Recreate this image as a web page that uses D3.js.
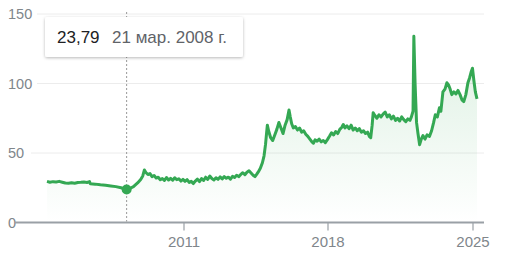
<!DOCTYPE html>
<html>
<head>
<meta charset="utf-8">
<script src="https://cdn.jsdelivr.net/npm/d3@7"></script>
<style>
  body { margin: 0; background: #fff; }
  svg { display: block; font-family: Arial, "Liberation Sans", sans-serif; }
</style>
</head>
<body>
<svg id="chart" width="506" height="265"></svg>
<script>
// decimal years and closing prices
var years = [
  2004.36, 2004.5, 2004.65, 2004.8, 2004.95, 2005.1, 2005.25, 2005.4, 2005.55, 2005.7,
  2005.85, 2006.0, 2006.15, 2006.3, 2006.42, 2006.46, 2006.7, 2006.95, 2007.2, 2007.45,
  2007.7, 2007.95, 2008.1, 2008.22, 2008.35, 2008.55, 2008.75, 2008.9, 2009.0, 2009.08,
  2009.15, 2009.25, 2009.35, 2009.45, 2009.55, 2009.65, 2009.75, 2009.85, 2009.95, 2010.05,
  2010.15, 2010.25, 2010.35, 2010.45, 2010.55, 2010.65, 2010.75, 2010.85, 2010.95, 2011.05,
  2011.15, 2011.25, 2011.35, 2011.45, 2011.55, 2011.65, 2011.75, 2011.85, 2011.95, 2012.05,
  2012.15, 2012.25, 2012.35, 2012.45, 2012.55, 2012.65, 2012.75, 2012.85, 2012.95, 2013.05,
  2013.15, 2013.25, 2013.35, 2013.45, 2013.55, 2013.65, 2013.75, 2013.85, 2013.95, 2014.05,
  2014.15, 2014.25, 2014.35, 2014.44, 2014.52, 2014.6, 2014.7, 2014.8, 2014.88, 2014.95,
  2015.0, 2015.04, 2015.1, 2015.2, 2015.3, 2015.4, 2015.5, 2015.6, 2015.7, 2015.8,
  2015.9, 2016.0, 2016.09, 2016.15, 2016.22, 2016.3, 2016.4, 2016.5, 2016.6, 2016.7,
  2016.8, 2016.9, 2017.0, 2017.1, 2017.2, 2017.27, 2017.35, 2017.45, 2017.55, 2017.65,
  2017.75, 2017.85, 2017.95, 2018.05, 2018.15, 2018.25, 2018.35, 2018.45, 2018.55, 2018.65,
  2018.72, 2018.8, 2018.9, 2019.0, 2019.1, 2019.2, 2019.3, 2019.4, 2019.5, 2019.6,
  2019.7, 2019.8, 2019.9, 2019.98, 2020.05, 2020.12, 2020.17, 2020.25, 2020.35, 2020.45,
  2020.55, 2020.65, 2020.75, 2020.85, 2020.95, 2021.05, 2021.15, 2021.25, 2021.35, 2021.45,
  2021.55, 2021.65, 2021.75, 2021.85, 2021.95, 2022.02, 2022.1, 2022.14, 2022.2, 2022.27,
  2022.34, 2022.42, 2022.5, 2022.58, 2022.68, 2022.78, 2022.9, 2023.0, 2023.1, 2023.18,
  2023.28, 2023.38, 2023.45, 2023.55, 2023.65, 2023.74, 2023.82, 2023.9, 2023.98, 2024.08,
  2024.18, 2024.28, 2024.38, 2024.48, 2024.56, 2024.66, 2024.76, 2024.84, 2024.92, 2024.98,
  2025.05, 2025.12, 2025.2
];
var prices = [
  29.6, 29.0, 29.4, 29.2, 29.6, 29.0, 28.4, 28.2, 28.6, 28.3,
  28.8, 28.9, 29.1, 28.8, 29.4, 27.9, 27.6, 27.1, 26.8, 26.3,
  25.8, 25.0, 24.4, 23.79, 24.3, 25.8, 28.5, 31.0, 33.5, 37.8,
  36.0, 34.5, 35.2, 33.0, 33.8, 32.0, 32.6, 30.8, 31.6, 30.2,
  32.4, 30.6, 31.8, 30.4, 32.2, 30.8, 31.4, 29.8, 31.0, 29.6,
  30.8, 28.8, 29.6, 28.0, 29.8, 31.2, 29.4, 31.6, 30.2, 32.6,
  31.0, 33.4, 31.6, 30.6, 32.2, 31.0, 32.8, 31.4, 33.0, 31.8,
  32.6, 31.2, 33.2, 32.4, 34.0, 33.0, 34.6, 35.8, 34.4, 36.2,
  37.2, 35.6, 34.0, 33.0, 34.6, 36.4, 39.0, 43.0, 48.0, 56.0,
  64.0, 70.0, 66.0, 61.0, 59.0, 63.0, 67.0, 72.0, 68.0, 64.0,
  70.0, 74.0, 81.0, 76.0, 71.0, 68.0, 69.0, 66.5, 68.0, 65.0,
  66.0, 63.5, 62.0, 60.0, 58.0, 57.0, 59.5, 58.5, 60.0, 58.0,
  59.0, 57.5, 59.6, 62.0, 64.6, 63.0, 65.5, 64.0, 67.0, 68.5,
  70.5, 68.0, 69.6, 67.5, 70.0, 66.5, 68.0, 66.0, 67.5, 65.0,
  66.0, 64.0, 65.0, 62.0, 61.0, 70.0, 79.0, 77.0, 75.0, 77.5,
  76.0, 78.0, 79.5, 76.0, 77.5, 74.5, 76.5, 73.5, 75.0, 73.0,
  76.0, 74.0, 72.5, 74.5, 73.5, 76.0, 80.0, 134.0, 100.0, 72.0,
  64.0, 56.0, 60.0, 62.5, 60.0, 63.0, 62.0, 66.0, 72.0, 77.5,
  76.0, 82.5, 80.0, 94.0, 96.0, 100.5, 99.0, 96.0, 92.0, 94.0,
  92.5, 95.0, 92.0, 88.0, 87.0, 92.0, 100.5, 104.0, 108.5, 111.0,
  102.0, 94.0, 89.0
];
var yTicks = [0, 50, 100, 150];
var xTickYears = [2011, 2018, 2025];
var hoverIndex = 23;
var hoverValue = "23,79";
var hoverDate = "21 мар. 2008 г.";

function toDate(y) {
  var yr = Math.floor(y);
  var start = Date.UTC(yr, 0, 1), end = Date.UTC(yr + 1, 0, 1);
  return new Date(start + (y - yr) * (end - start));
}

var data = years.map(function(y, i) { return { date: toDate(y), value: prices[i] }; });

var svg = d3.select('#chart');
var green = '#34a853';

var x = d3.scaleTime().domain(d3.extent(data, function(d) { return d.date; })).range([47, 477]);
var y = d3.scaleLinear().domain([0, 150]).range([222.5, 14]);

var defs = svg.append('defs');
var grad = defs.append('linearGradient').attr('id', 'fillGrad')
  .attr('gradientUnits', 'userSpaceOnUse')
  .attr('x1', 0).attr('x2', 0).attr('y1', y(111)).attr('y2', y(0));
grad.append('stop').attr('offset', 0).attr('stop-color', green).attr('stop-opacity', 0.14);
grad.append('stop').attr('offset', 1).attr('stop-color', green).attr('stop-opacity', 0);

var shadow = defs.append('filter').attr('id', 'shadow')
  .attr('x', '-10%').attr('y', '-30%').attr('width', '120%').attr('height', '170%');
shadow.append('feDropShadow').attr('dx', 0).attr('dy', 1).attr('stdDeviation', 1.5)
  .attr('flood-color', '#000').attr('flood-opacity', 0.28);

// y labels + gridlines
var yLabel = svg.append('g').selectAll('g').data(yTicks).enter().append('g');
yLabel.append('text')
  .attr('x', 8).attr('y', function(d) { return y(d); }).attr('dy', '0.36em')
  .attr('fill', '#80868b').style('font-size', '14.5px')
  .text(function(d) { return d; });
yLabel.filter(function(d) { return d > 0; }).append('line')
  .attr('x1', function(d) { return d >= 100 ? 37 : 31; }).attr('x2', 484)
  .attr('y1', function(d) { return y(d); }).attr('y2', function(d) { return y(d); })
  .attr('stroke', '#ececec').attr('stroke-width', 1);

// area + line
var area = d3.area().x(function(d) { return x(d.date); }).y0(y(0)).y1(function(d) { return y(d.value); });
var line = d3.line().x(function(d) { return x(d.date); }).y(function(d) { return y(d.value); });

svg.append('path').datum(data).attr('d', area).attr('fill', 'url(#fillGrad)');
svg.append('path').datum(data).attr('d', line)
  .attr('fill', 'none').attr('stroke', green).attr('stroke-width', 3)
  .attr('stroke-linejoin', 'round');

// x axis
svg.append('line').attr('x1', 15).attr('x2', 484).attr('y1', y(0)).attr('y2', y(0))
  .attr('stroke', '#9aa0a6').attr('stroke-width', 2);
var xt = svg.append('g').selectAll('g').data(xTickYears).enter().append('g')
  .attr('transform', function(d) { return 'translate(' + Math.round(x(toDate(d))) + ',0)'; });
xt.append('line').attr('y1', y(0)).attr('y2', y(0) + 8).attr('stroke', '#9aa0a6').attr('stroke-width', 1.2);
xt.append('text').attr('y', 247).attr('text-anchor', 'middle')
  .attr('fill', '#80868b').style('font-size', '15px')
  .text(function(d) { return d; });

// hover marker
var hp = data[hoverIndex];
svg.append('line').attr('x1', x(hp.date)).attr('x2', x(hp.date)).attr('y1', 12).attr('y2', y(0) - 1)
  .attr('stroke', '#999').attr('stroke-width', 1).attr('stroke-dasharray', '2,2');
svg.append('circle').attr('cx', x(hp.date)).attr('cy', y(hp.value)).attr('r', 5).attr('fill', green);

// tooltip
var tip = svg.append('g');
tip.append('rect').attr('x', 45).attr('y', 17).attr('width', 198).attr('height', 40).attr('rx', 2)
  .attr('fill', '#fff').attr('filter', 'url(#shadow)');
tip.append('text').attr('x', 57).attr('y', 43).attr('fill', '#202124').style('font-size', '17px').text(hoverValue);
tip.append('text').attr('x', 112).attr('y', 43).attr('fill', '#5f6368').style('font-size', '17px').text(hoverDate);
</script>
</body>
</html>
